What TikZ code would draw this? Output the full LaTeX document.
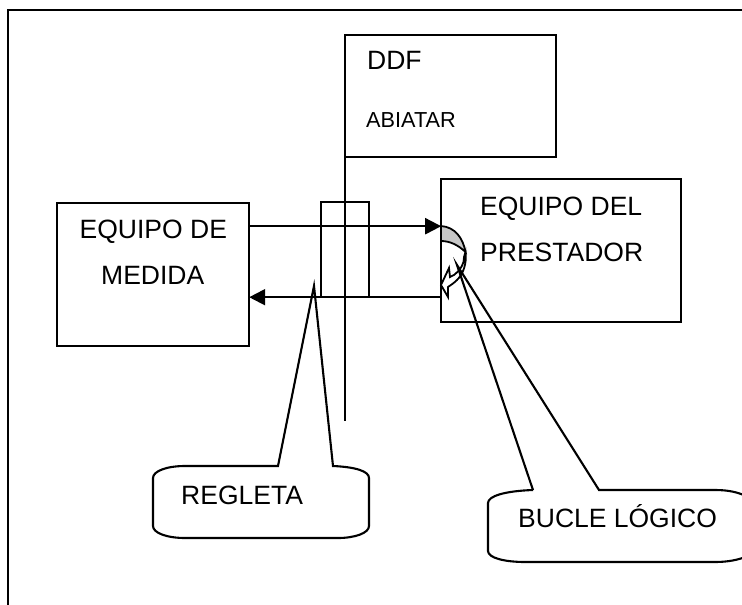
\documentclass[tikz,border=0pt]{standalone}
\usepackage{fontspec}
\setmainfont{Liberation Sans}
\usetikzlibrary{arrows.meta}
\tikzset{
  x=1pt,y=-1pt,
  ln/.style={line width=2.1pt,draw=black},
  boxn/.style={ln,fill=white,rectangle,inner sep=0pt,outer sep=0pt,anchor=north west},
  lbl/.style={inner sep=0pt,anchor=base west,font=\fontsize{26.5}{30}\selectfont,text=black},
  small/.style={inner sep=0pt,anchor=base west,font=\fontsize{21.7}{25}\selectfont,text=black},
  arr/.style={ln,-{Triangle[length=16pt,width=16pt]}},
}
\begin{document}
\begin{tikzpicture}
\useasboundingbox (0,0) rectangle (742,605);
% frame
\coordinate (f1) at (8.2,605); \coordinate (f2) at (8.2,10.2); \coordinate (f3) at (742,10.2);
\draw[ln] (f1) -- (f2) -- (f3);
% vertical DDF line
\node[boxn,minimum width=211pt,minimum height=122pt] (ddf) at (345.2,35.2) {};
\coordinate (vend) at (345.2,421);
\draw[ln] (ddf.south west) -- (vend);
% boxes
\node[boxn,minimum width=192pt,minimum height=143pt] (medida) at (57.2,203.2) {};
\node[boxn,minimum width=240pt,minimum height=143pt] (prest) at (441.2,179.2) {};
\node[boxn,draw=black,fill=none,minimum width=48pt,minimum height=95pt] (regbox) at (321.2,202.2) {};
% arrows
\coordinate (a1) at (medida.east |- 0,226.2); \coordinate (b1) at (prest.west |- 0,226.2);
\coordinate (a2) at (prest.west |- 0,297.2); \coordinate (b2) at (medida.east |- 0,297.2);
\draw[arr] (a1) -- (b1);
\draw[arr] (a2) -- (b2);
% curved arrow
\draw[ln,line width=1.8pt,fill=black!22] (441,226) .. controls (455,227) and (463,238) .. (465.5,252)
  .. controls (458,245) and (450,241) .. (441,241) -- cycle;
\draw[ln,line width=1.8pt,fill=white,line join=miter] (465.5,252) .. controls (467,264) and (463,274) .. (457,280)
  .. controls (454,283) and (451,285) .. (448,287) -- (448,297) -- (441,285) -- (449,268) -- (450,277)
  .. controls (456,275) and (462,268) .. (463.5,262) .. controls (464,258) and (464,255) .. (465.5,252) -- cycle;
% callouts
\draw[ln] (278,466) -- (314,286) -- (333,466)
  .. controls (355,467) and (369,471) .. (369,478) -- (369,526)
  .. controls (369,533) and (355,538) .. (338,538) -- (185,538)
  .. controls (167,538) and (153,533) .. (153,526) -- (153,478)
  .. controls (153,471) and (167,466) .. (185,466) -- cycle;
\draw[ln] (533,490) -- (457,265) -- (599,490) -- (715,490)
  .. controls (728,490) and (738,492) .. (748,497);
\draw[ln] (748,556) .. controls (738,560) and (728,562) .. (715,562) -- (525,562)
  .. controls (505,562) and (488,558) .. (488,551) -- (488,503)
  .. controls (488,496) and (505,491) .. (533,490);
% labels
\node[lbl] (tddf) at (367,69) {DDF};
\node[small] (tabi) at (366,127) {ABIATAR};
\node[lbl] (tm1) at (79.5,238) {EQUIPO DE};
\node[lbl] (tm2) at (101,284) {MEDIDA};
\node[lbl] (tp1) at (480,215) {EQUIPO DEL};
\node[lbl] (tp2) at (480,261) {PRESTADOR};
\node[lbl] (treg) at (181,504) {REGLETA};
\node[lbl] (tbuc) at (518,527) {BUCLE LÓGICO};
\end{tikzpicture}
\end{document}
